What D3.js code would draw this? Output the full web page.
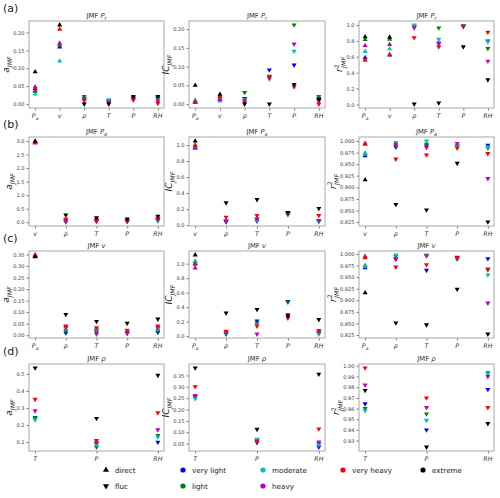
<!DOCTYPE html>
<html><head><meta charset="utf-8">
<script src="https://d3js.org/d3.v7.min.js"></script>
<style>body{margin:0;background:#fff}svg{font-family:"DejaVu Sans",sans-serif}</style>
</head><body><svg id="c" width="500" height="498"></svg>
<script>
const seriesNames = ["very light","light","moderate","heavy","very heavy","extreme"];
const seriesColors = ["#0000ff","#008000","#00bfbf","#bf00bf","#ff0000","#000000"];

const catsA = ["P_a","v","ρ","T","P","RH"];
const catsB = ["v","ρ","T","P","RH"];
const catsC = ["P_a","ρ","T","P","RH"];
const catsD = ["T","P","RH"];
const directA = [1,1,0,0,0,0];
const directB = [1,0,0,0,0];
const directC = [1,0,0,0,0];
const directD = [0,0,0];
const titles = ["P_r","P_a","v","ρ"];

// rows: very light, light, moderate, heavy, very heavy, extreme
const aA = [[0.043,0.159,0.015,0.010,0.016,0.015],[0.035,0.165,0.021,0.008,0.018,0.018],[0.028,0.120,0.013,0.012,0.014,0.012],[0.048,0.170,0.012,0.006,0.013,0.008],[0.038,0.209,0.010,0.004,0.012,0.002],[0.090,0.221,0.000,0.000,0.021,0.021]];
const icA = [[0.009,0.012,0.015,0.091,0.104,0.015],[0.006,0.022,0.031,0.074,0.211,0.020],[0.007,0.008,0.012,0.067,0.141,0.010],[0.005,0.013,0.010,0.070,0.160,0.008],[0.004,0.019,0.005,0.072,0.046,0.000],[0.050,0.026,0.000,0.000,0.052,0.012]];
const r2A = [[0.588,0.620,0.985,0.765,0.995,0.800],[0.815,0.820,0.980,0.963,0.990,0.705],[0.667,0.700,1.000,0.820,0.990,0.790],[0.740,0.755,0.963,0.773,0.985,0.545],[0.556,0.625,0.840,0.725,0.978,0.910],[0.850,0.845,0.005,0.020,0.725,0.310]];

const aB = [[2.94,0.01,0.05,0.03,0.08],[2.96,0.06,0.06,0.04,0.07],[2.95,0.04,0.04,0.03,0.05],[2.93,0.05,0.03,0.04,0.10],[2.97,0.12,0.10,0.06,0.15],[3.00,0.27,0.17,0.12,0.22]];
const icB = [[0.97,0.04,0.05,0.14,0.05],[0.99,0.05,0.07,0.15,0.06],[0.975,0.06,0.06,0.13,0.04],[0.96,0.05,0.08,0.15,0.06],[1.00,0.10,0.12,0.14,0.12],[1.05,0.28,0.32,0.16,0.21]];
const r2B = [[0.968,0.987,0.990,0.990,0.991],[0.973,0.990,0.993,0.988,0.985],[0.972,0.997,1.000,0.990,0.987],[0.995,0.993,0.986,0.995,0.919],[0.993,0.961,0.970,0.985,0.973],[0.916,0.863,0.851,0.952,0.825]];

const aC = [[0.342,0.010,0.015,0.008,0.012],[0.343,0.020,0.020,0.012,0.020],[0.344,0.030,0.025,0.015,0.028],[0.345,0.035,0.005,0.010,0.035],[0.348,0.040,0.032,0.022,0.040],[0.340,0.090,0.060,0.052,0.070]];
const icC = [[1.00,0.03,0.21,0.48,0.04],[1.03,0.04,0.18,0.47,0.05],[1.02,0.05,0.16,0.27,0.03],[0.94,0.06,0.03,0.30,0.06],[0.99,0.07,0.14,0.25,0.08],[1.12,0.32,0.37,0.28,0.23]];
const r2C = [[0.970,0.989,0.965,0.991,0.990],[0.975,0.995,0.997,0.989,0.966],[0.973,0.998,0.998,0.990,0.955],[0.995,0.990,0.996,0.992,0.894],[0.992,0.972,0.977,0.993,0.968],[0.916,0.851,0.847,0.924,0.827]];

const aD = [[0.240,0.090,0.100],[0.245,0.071,0.139],[0.231,0.085,0.130],[0.284,0.100,0.172],[0.351,0.110,0.272],[0.535,0.239,0.492]];
const icD = [[0.258,0.055,0.035],[0.255,0.066,0.050],[0.248,0.070,0.045],[0.262,0.060,0.057],[0.301,0.062,0.115],[0.383,0.113,0.356]];
const r2D = [[0.9645,0.940,0.978],[0.960,0.955,0.993],[0.958,0.949,0.994],[0.982,0.961,0.990],[0.998,0.970,0.961],[0.977,0.924,0.946]];

const ticksA = [[0,0.05,0.10,0.15,0.20],[0,0.05,0.10,0.15,0.20],[0,0.2,0.4,0.6,0.8,1.0]];
const ticksB = [[0,0.5,1.0,1.5,2.0,2.5,3.0],[0,0.2,0.4,0.6,0.8,1.0],[0.825,0.85,0.875,0.9,0.925,0.95,0.975,1.0]];
const ticksC = [[0,0.05,0.10,0.15,0.20,0.25,0.30,0.35],[0,0.2,0.4,0.6,0.8,1.0],[0.825,0.85,0.875,0.9,0.925,0.95,0.975,1.0]];
const ticksD = [[0.1,0.2,0.3,0.4,0.5],[0.05,0.10,0.15,0.20,0.25,0.30,0.35],[0.92,0.93,0.94,0.95,0.96,0.97,0.98,0.99,1.00]];
const decs = [[2,2,1],[1,1,3],[2,1,3],[1,2,2]];

const rowsSpec = [
  {cats:catsA, dir:directA, data:[aA,icA,r2A], ticks:ticksA, label:"(a)"},
  {cats:catsB, dir:directB, data:[aB,icB,r2B], ticks:ticksB, label:"(b)"},
  {cats:catsC, dir:directC, data:[aC,icC,r2C], ticks:ticksC, label:"(c)"},
  {cats:catsD, dir:directD, data:[aD,icD,r2D], ticks:ticksD, label:"(d)"}
];
const colX = [[29,164],[189,325],[359,494]];
const rowY = [[21,108],[137,226],[251,338],[364,451]];
const ylabels = [["a","JMF",null],["IC","JMF",null],["r","JMF","2"]];

const svg = d3.select("#c");
const spine = "#a8a8a8";
const tickFs = 5.1;

function mathLabel(t, label, fs){
  const p = label.split("_");
  t.append("tspan").attr("font-style","italic").text(p[0]);
  if(p[1]) t.append("tspan").attr("font-style","italic").attr("font-size",fs*0.72).attr("dy",fs*0.28).text(p[1]);
}

const triUp = d3.symbol().type(d3.symbolTriangle).size(11);

rowsSpec.forEach((row, ri) => {
  const [y0,y1] = rowY[ri];
  svg.append("text").attr("x",3).attr("y",y0-9).attr("font-size",11).attr("fill","#222").text(row.label);
  row.data.forEach((mat, ci) => {
    const [x0,x1] = colX[ci];
    const n = row.cats.length;
    const x = d3.scaleLinear().domain([-0.05*(n-1),(n-1)*1.05]).range([x0,x1]);
    const all = mat.flat();
    const mn = d3.min(all), mx = d3.max(all), m = (mx-mn)*0.05;
    const y = d3.scaleLinear().domain([mn-m, mx+m]).range([y1,y0]);
    const g = svg.append("g");
    const fmt = d3.format("."+decs[ri][ci]+"f");
    const tv = row.ticks[ci].filter(v => v >= y.domain()[0]-1e-9 && v <= y.domain()[1]+1e-9);
    const yAxis = d3.axisLeft(y).tickValues(tv).tickSize(2.5).tickPadding(2).tickFormat(fmt);
    const ya = g.append("g").attr("transform",`translate(${x0},0)`).call(yAxis);
    ya.select(".domain").remove();
    ya.selectAll("line").attr("stroke","#777");
    ya.selectAll("text").attr("font-size",tickFs).attr("fill","#444").attr("font-family","DejaVu Sans");
    const xAxis = d3.axisBottom(x).tickValues(d3.range(n)).tickSize(2.5).tickFormat("");
    const xa = g.append("g").attr("transform",`translate(0,${y1})`).call(xAxis);
    xa.select(".domain").remove();
    xa.selectAll("line").attr("stroke","#777");
    row.cats.forEach((c,i) => {
      const t = g.append("text").attr("x",x(i)).attr("y",y1+10).attr("text-anchor","middle").attr("font-size",6.3).attr("fill","#333");
      mathLabel(t,c,6.3);
    });
    g.append("rect").attr("x",x0).attr("y",y0).attr("width",x1-x0).attr("height",y1-y0).attr("fill","none").attr("stroke",spine).attr("stroke-width",1);
    // title
    const tt = g.append("text").attr("x",(x0+x1)/2).attr("y",y0-3).attr("text-anchor","middle").attr("font-size",6.8).attr("fill","#333");
    tt.append("tspan").text("JMF ");
    mathLabel(tt,titles[ri],6.8);
    // y label
    const maxW = d3.max(tv, v => { const s = fmt(v); return (s.length-1)*0.636*tickFs + 0.318*tickFs; });
    const lx = x0 - 4.5 - maxW - 4;
    const yl = ylabels[ci];
    const lt = g.append("text").attr("transform",`translate(${lx},${(y0+y1)/2}) rotate(-90)`).attr("text-anchor","middle").attr("font-size",9).attr("fill","#222");
    lt.append("tspan").attr("font-style","italic").text(yl[0]);
    if(yl[2]){
      lt.append("tspan").attr("font-size",6.3).attr("dy",-3.5).text(yl[2]);
      lt.append("tspan").attr("font-style","italic").attr("font-size",6.3).attr("dx",-3.6).attr("dy",7).text(yl[1]);
    } else {
      lt.append("tspan").attr("font-style","italic").attr("font-size",6.3).attr("dy",2.5).text(yl[1]);
    }
    // points
    mat.forEach((vals, si) => {
      vals.forEach((v, i) => {
        const down = !row.dir[i];
        g.append("path").attr("d",triUp)
          .attr("transform",`translate(${x(i)},${y(v)}) rotate(${down?180:0})`)
          .attr("fill",seriesColors[si]);
      });
    });
  });
});

// legend
const legItems = [
  {label:"direct", type:"up", color:"#000", col:0, r:0},
  {label:"fluc", type:"down", color:"#000", col:0, r:1},
  {label:seriesNames[0], type:"dot", color:seriesColors[0], col:1, r:0},
  {label:seriesNames[1], type:"dot", color:seriesColors[1], col:1, r:1},
  {label:seriesNames[2], type:"dot", color:seriesColors[2], col:2, r:0},
  {label:seriesNames[3], type:"dot", color:seriesColors[3], col:2, r:1},
  {label:seriesNames[4], type:"dot", color:seriesColors[4], col:3, r:0},
  {label:seriesNames[5], type:"dot", color:seriesColors[5], col:4, r:0}
];
const legX = [106,183,263,343,423];
const legY = [470,486];
const lg = svg.append("g");
legItems.forEach(it => {
  const cx = legX[it.col], cy = legY[it.r];
  if(it.type==="dot") lg.append("circle").attr("cx",cx).attr("cy",cy).attr("r",2.6).attr("fill",it.color);
  else lg.append("path").attr("d",d3.symbol().type(d3.symbolTriangle).size(16)).attr("transform",`translate(${cx},${cy}) rotate(${it.type==="down"?180:0})`).attr("fill",it.color);
  lg.append("text").attr("x",cx+9).attr("y",cy+2.5).attr("font-size",7.2).attr("fill","#222").text(it.label);
});
</script></body></html>
